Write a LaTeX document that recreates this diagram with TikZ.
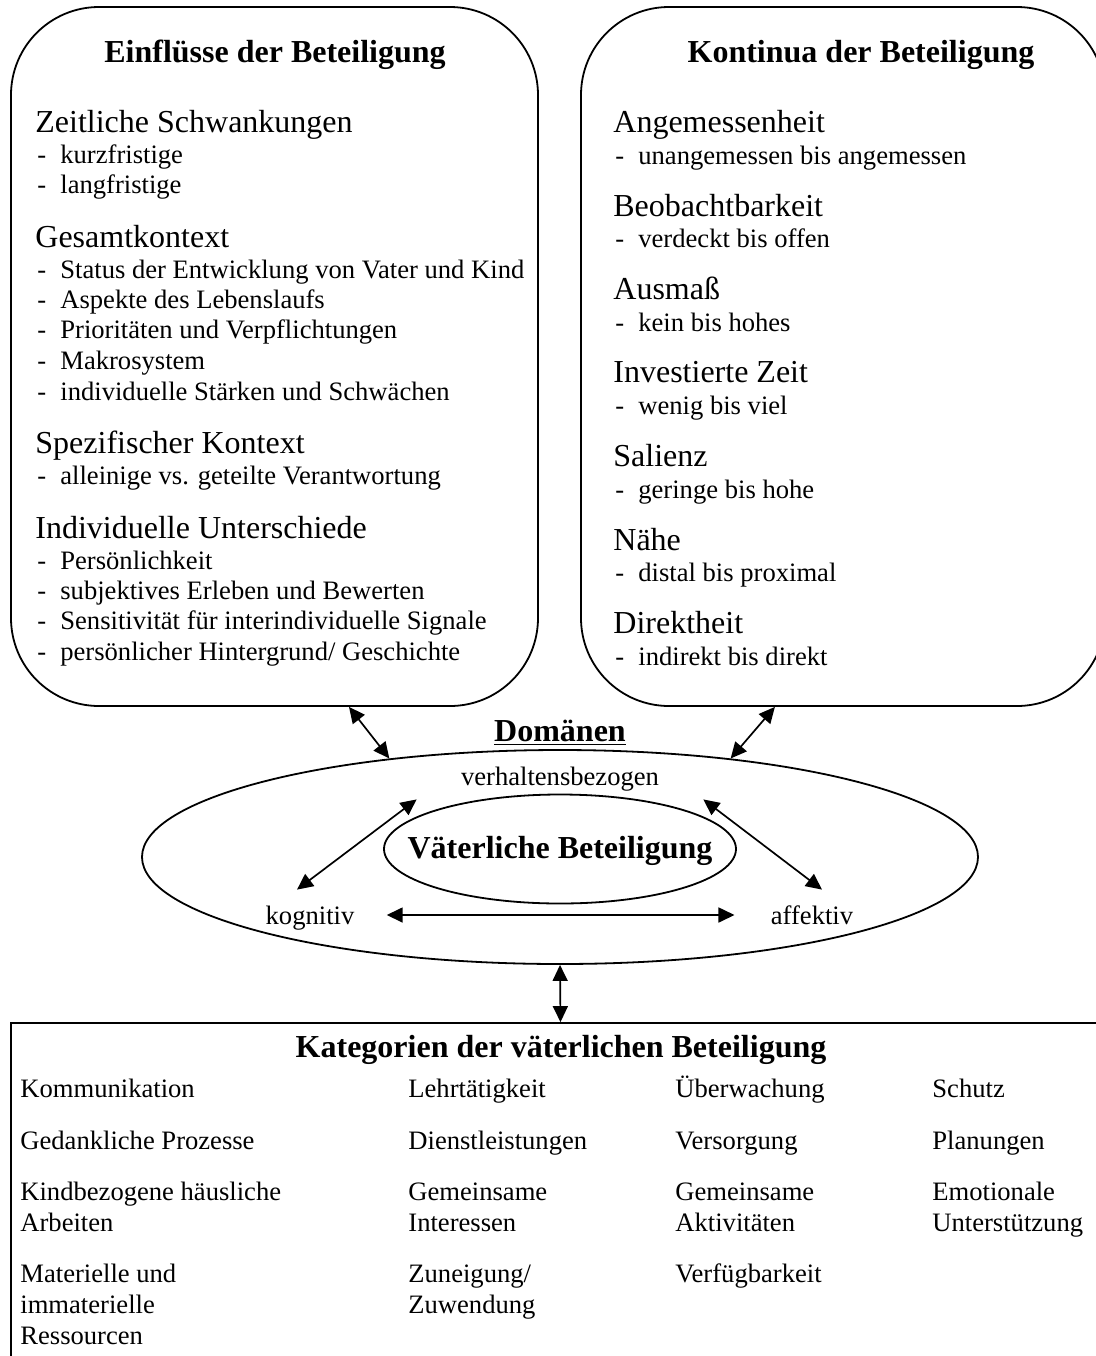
\documentclass[tikz,border=0pt]{standalone}
\usepackage{fontspec}
\setmainfont{Liberation Serif}
\usetikzlibrary{shapes.geometric}
\usetikzlibrary{positioning}
\usetikzlibrary{calc}
\usetikzlibrary{arrows.meta}

\newcommand{\listdash}[1]{\makebox[11.5pt][l]{-}#1}

\begin{document}
\begin{tikzpicture}
		[
			x = 0.5pt, y = -0.5pt,
			panel/.style = {rectangle, rounded corners = 44pt, draw = black, line width = 0.9pt, inner sep = 0pt},
			catbox/.style = {rectangle, draw = black, line width = 0.9pt, inner sep = 0pt, minimum width = 549.5pt, minimum height = 188.5pt},
			ring/.style = {ellipse, draw = black, line width = 0.9pt, inner sep = 0pt},
			title/.style = {font = \fontsize{16}{19}\selectfont\bfseries, inner sep = 0pt},
			head/.style = {font = \fontsize{16}{19}\selectfont, anchor = base west, inner sep = 0pt},
			entry/.style = {font = \fontsize{13.3}{15.5}\selectfont, anchor = base west, inner sep = 0pt},
			cell/.style = {entry, align = left},
			domainlabel/.style = {font = \fontsize{13.3}{15.5}\selectfont, anchor = base, text height = 9pt, text depth = 0pt, inner sep = 2pt},
			link/.style = {line width = 0.85pt, <->, >={Triangle[length = 8pt, width = 7.5pt]}},
		]
			%
			\useasboundingbox (0,0) rectangle (1096,1356);
			\clip (0,0) rectangle (1096,1356);
			%
			\node (einfluss) [panel, minimum width = 263.5pt, minimum height = 349.5pt] at (274.5,356.5) {};
			\node (kontinua) [panel, minimum width = 262pt, minimum height = 349.5pt] at (843,356.5) {};
			\node (kategorien) [catbox] at (560.5,1211.5) {};
			\node (domaene) [ring, minimum width = 418pt, minimum height = 107pt] at (560,857) {};
			\node (vaterring) [ring, minimum width = 176pt, minimum height = 54.5pt] at (560,849) {};
			%
			\node (einflusstitle) [title] at (275,55) {Einflüsse der Beteiligung};
			\node (kontinuatitle) [title] at (861,55) {Kontinua der Beteiligung};
			\node (kategorientitle) [title] at (561,1050) {Kategorien der väterlichen Beteiligung};
			\node (domaenen) [title] at (560,733) {\underline{Domänen}};
			\node (vater) [title, anchor = base] at (560,858) {Väterliche Beteiligung};
			%
			\node (verhalten) [domainlabel] at (560,785) {verhaltensbezogen};
			\node (kognitiv) [domainlabel] at (310,924) {kognitiv};
			\node (affektiv) [domainlabel] at (812,924) {affektiv};
			%
			\node (zeit) [head] at (35,132) {Zeitliche Schwankungen};
			\node (zeitA) [entry] at (37,163) {\listdash{kurzfristige}};
			\node (zeitB) [entry] at (37,193) {\listdash{langfristige}};
			\node (gesamt) [head] at (35,247) {Gesamtkontext};
			\node (gesamtA) [entry] at (37,278) {\listdash{Status der Entwicklung von Vater und Kind}};
			\node (gesamtB) [entry] at (37,308) {\listdash{Aspekte des Lebenslaufs}};
			\node (gesamtC) [entry] at (37,338) {\listdash{Prioritäten und Verpflichtungen}};
			\node (gesamtD) [entry] at (37,369) {\listdash{Makrosystem}};
			\node (gesamtE) [entry] at (37,400) {\listdash{individuelle Stärken und Schwächen}};
			\node (spezif) [head] at (35,453) {Spezifischer Kontext};
			\node (spezifA) [entry] at (37,484) {\listdash{alleinige vs. geteilte Verantwortung}};
			\node (indiv) [head] at (35,538) {Individuelle Unterschiede};
			\node (indivA) [entry] at (37,569) {\listdash{Persönlichkeit}};
			\node (indivB) [entry] at (37,599) {\listdash{subjektives Erleben und Bewerten}};
			\node (indivC) [entry] at (37,629) {\listdash{Sensitivität für interindividuelle Signale}};
			\node (indivD) [entry] at (37,660) {\listdash{persönlicher Hintergrund/ Geschichte}};
			%
			\node (angem) [head] at (613,132) {Angemessenheit};
			\node (angemA) [entry] at (615,164) {\listdash{unangemessen bis angemessen}};
			\node (beob) [head] at (613,216) {Beobachtbarkeit};
			\node (beobA) [entry] at (615,247) {\listdash{verdeckt bis offen}};
			\node (ausmass) [head] at (613,299) {Ausmaß};
			\node (ausmassA) [entry] at (615,331) {\listdash{kein bis hohes}};
			\node (zeitinv) [head] at (613,382) {Investierte Zeit};
			\node (zeitinvA) [entry] at (615,414) {\listdash{wenig bis viel}};
			\node (salienz) [head] at (613,466) {Salienz};
			\node (salienzA) [entry] at (615,498) {\listdash{geringe bis hohe}};
			\node (naehe) [head] at (613,550) {Nähe};
			\node (naeheA) [entry] at (615,581) {\listdash{distal bis proximal}};
			\node (direkt) [head] at (613,633) {Direktheit};
			\node (direktA) [entry] at (615,665) {\listdash{indirekt bis direkt}};
			%
			% multi-line cells sit on the baseline of their last line
			\node (kommunikation) [cell] at (20,1097) {Kommunikation};
			\node (lehr) [cell] at (408,1097) {Lehrtätigkeit};
			\node (ueberwachung) [cell] at (675,1097) {Überwachung};
			\node (schutz) [cell] at (932,1097) {Schutz};
			\node (gedanken) [cell] at (20,1149) {Gedankliche Prozesse};
			\node (dienst) [cell] at (408,1149) {Dienstleistungen};
			\node (versorgung) [cell] at (675,1149) {Versorgung};
			\node (planung) [cell] at (932,1149) {Planungen};
			\node (haus) [cell] at (20,1231) {Kindbezogene häusliche\\Arbeiten};
			\node (interessen) [cell] at (408,1231) {Gemeinsame\\Interessen};
			\node (aktivitaeten) [cell] at (675,1231) {Gemeinsame\\Aktivitäten};
			\node (emotion) [cell] at (932,1231) {Emotionale\\Unterstützung};
			\node (ressourcen) [cell] at (20,1344) {Materielle und\\immaterielle\\Ressourcen};
			\node (zuneigung) [cell] at (408,1313) {Zuneigung/\\Zuwendung};
			\node (verfuegbar) [cell] at (675,1282) {Verfügbarkeit};
			%
			\node (verhaltenL) [coordinate, xshift = -20pt, yshift = -5pt] at (verhalten.south west) {};
			\node (verhaltenR) [coordinate, xshift = 20pt, yshift = -5pt] at (verhalten.south east) {};
			\node (kognitivT) [coordinate, xshift = -6.5pt, yshift = 6pt] at (kognitiv.north) {};
			\node (affektivT) [coordinate, xshift = 5pt, yshift = 6pt] at (affektiv.north) {};
			%
			\draw [link] (einfluss.-78.3) -- (domaene.150);
			\draw [link] (kontinua.-101) -- (domaene.30);
			\draw [link] (domaene.south) -- (kategorien.north);
			\draw [link] (kognitivT) -- (verhaltenL);
			\draw [link] (affektivT) -- (verhaltenR);
			\draw [link, shorten <= 14pt, shorten >= 16pt] (kognitiv.east) -- (affektiv.west);
			%
		\end{tikzpicture}
\end{document}
